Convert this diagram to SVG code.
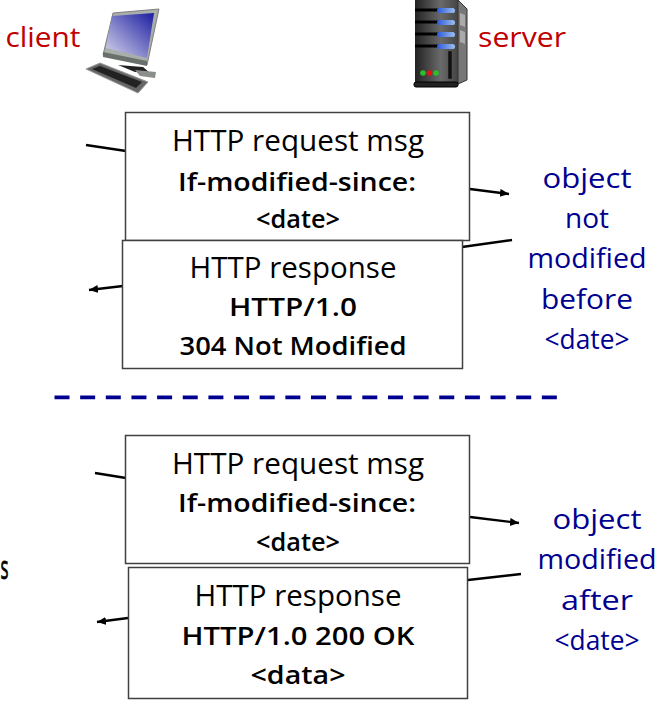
<svg xmlns="http://www.w3.org/2000/svg" width="672" height="706" viewBox="0 0 672 706">
<style>
text{font-family:"Open Sans","DejaVu Sans",sans-serif;text-anchor:middle}
.t{font-size:29px;fill:#000}
.b{font-size:25px;font-weight:600;fill:#000}
.r{font-size:27px;fill:#c00000}
.n{font-size:27px;font-weight:500;fill:#000090}
.box{fill:#fff;stroke:#404040;stroke-width:1.5}
.c{stroke:#000;stroke-width:2.3;fill:none}
.a{marker-end:url(#ah)}
</style>
<defs>
<marker id="ah" markerUnits="userSpaceOnUse" markerWidth="10" markerHeight="10" refX="9" refY="4" orient="auto"><path d="M0 0L9 4L0 8Z" fill="#000"/></marker>
<linearGradient id="scr" x1="1" y1="0" x2="0" y2="1"><stop offset="0" stop-color="#1c1ca0"/><stop offset="1" stop-color="#d8d8ee"/></linearGradient>
<linearGradient id="tower" x1="0" y1="0" x2="1" y2="0"><stop offset="0" stop-color="#222"/><stop offset="0.6" stop-color="#6a6a6a"/><stop offset="1" stop-color="#444"/></linearGradient>
<linearGradient id="led" x1="0" y1="0" x2="1" y2="0"><stop offset="0" stop-color="#2c58d8"/><stop offset="1" stop-color="#9cc0f0"/></linearGradient>
</defs>
<g id="client-label"><text class="r" x="43" y="47" textLength="75" lengthAdjust="spacingAndGlyphs">client</text></g>
<g id="client-icon">
<path d="M113 13L159 9L147 65L103 55Z" fill="#a8aeaa" stroke="#808080" stroke-width="1"/>
<path d="M112 16L154 13L147 58L106 48Z" fill="url(#scr)"/>
<path d="M103 52L147 61L147 66L103 57Z" fill="#6a706c"/>
<path d="M118 65L143 67L150 73L135 72Z" fill="#222"/>
<path d="M135 70L156 72L155 78L140 76Z" fill="#8a8f8b"/>
<path d="M86 69L100 63L148 82L138 93Z" fill="#666" stroke="#999" stroke-width="1"/>
<path d="M92 69L100 66L142 82L136 88Z" fill="#222"/>
</g>
<g id="server-label"><text class="r" x="522" y="47" textLength="88" lengthAdjust="spacingAndGlyphs">server</text></g>
<g id="server-icon">
<path d="M415 0H458V84H415Z" fill="url(#tower)"/>
<path d="M458 0L467 9V80L458 84Z" fill="#777" stroke="#333" stroke-width="1"/>
<path d="M460 13L465 15V27L460 25ZM460 30L465 32V44L460 42Z" fill="#aaa"/>
<path d="M415 10H455M415 22H455M415 34H455M415 46H455" stroke="#000" stroke-width="3"/>
<rect x="437" y="8" width="18" height="5" rx="2" fill="url(#led)"/>
<rect x="437" y="20" width="18" height="5" rx="2" fill="url(#led)"/>
<rect x="437" y="32" width="18" height="5" rx="2" fill="url(#led)"/>
<rect x="437" y="44" width="18" height="5" rx="2" fill="url(#led)"/>
<rect x="448" y="51" width="4" height="28" fill="#111" stroke="#555" stroke-width="0.5"/>
<circle cx="423" cy="73" r="2.8" fill="#2ac02a"/><circle cx="429.500" cy="73" r="2.8" fill="#e81010"/><circle cx="436" cy="73" r="2.8" fill="#2ac02a"/>
<rect x="414" y="82" width="44" height="5" rx="2" fill="#222" stroke="#000" stroke-width="1"/>
</g>
<g id="connectors">
<path class="c" d="M86 145L126 151"/>
<path class="c a" d="M470 189L509 194"/>
<path class="c" d="M462 247L512 240"/>
<path class="c a" d="M123 286L89 290"/>
<path class="c" d="M95 473L126 478"/>
<path class="c a" d="M470 517L519 523"/>
<path class="c" d="M468 580L521 574"/>
<path class="c a" d="M128 618L97 622"/>
<path d="M54.500 397.300H557" stroke="#000090" stroke-width="3.8" stroke-dasharray="15 10.650" fill="none"/>
</g>
<g id="request-1">
<rect class="box" x="125.500" y="112.500" width="344" height="128"/>
<text class="t" x="298" y="151" textLength="252" lengthAdjust="spacingAndGlyphs">HTTP request msg</text>
<text class="b" x="297" y="191" textLength="238" lengthAdjust="spacingAndGlyphs">If-modified-since:</text>
<text class="b" x="298" y="228" textLength="84" lengthAdjust="spacingAndGlyphs">&lt;date&gt;</text>
</g>
<g id="response-1">
<rect class="box" x="122.500" y="240.500" width="340" height="128"/>
<text class="t" x="293" y="278" textLength="207" lengthAdjust="spacingAndGlyphs">HTTP response</text>
<text class="b" x="293" y="316" textLength="128" lengthAdjust="spacingAndGlyphs">HTTP/1.0</text>
<text class="b" x="293" y="355" textLength="227" lengthAdjust="spacingAndGlyphs">304 Not Modified</text>
</g>
<g id="note-1">
<text class="n" x="587" y="188" textLength="89" lengthAdjust="spacingAndGlyphs">object</text>
<text class="n" x="587" y="228" textLength="44" lengthAdjust="spacingAndGlyphs">not</text>
<text class="n" x="587" y="268" textLength="119" lengthAdjust="spacingAndGlyphs">modified</text>
<text class="n" x="587" y="309" textLength="92" lengthAdjust="spacingAndGlyphs">before</text>
<text class="n" x="587" y="349" textLength="85" lengthAdjust="spacingAndGlyphs">&lt;date&gt;</text>
</g>
<g id="request-2">
<rect class="box" x="125.500" y="435.500" width="344" height="128"/>
<text class="t" x="298" y="474" textLength="252" lengthAdjust="spacingAndGlyphs">HTTP request msg</text>
<text class="b" x="297" y="512" textLength="238" lengthAdjust="spacingAndGlyphs">If-modified-since:</text>
<text class="b" x="298" y="551" textLength="84" lengthAdjust="spacingAndGlyphs">&lt;date&gt;</text>
</g>
<g id="response-2">
<rect class="box" x="128.500" y="567.500" width="339" height="131"/>
<text class="t" x="298" y="606" textLength="207" lengthAdjust="spacingAndGlyphs">HTTP response</text>
<text class="b" x="298" y="645" textLength="233" lengthAdjust="spacingAndGlyphs">HTTP/1.0 200 OK</text>
<text class="b" x="298" y="684" textLength="95" lengthAdjust="spacingAndGlyphs">&lt;data&gt;</text>
</g>
<g id="note-2">
<text class="n" x="597" y="529" textLength="89" lengthAdjust="spacingAndGlyphs">object</text>
<text class="n" x="597" y="569" textLength="119" lengthAdjust="spacingAndGlyphs">modified</text>
<text class="n" x="597" y="610" textLength="72" lengthAdjust="spacingAndGlyphs">after</text>
<text class="n" x="597" y="650" textLength="85" lengthAdjust="spacingAndGlyphs">&lt;date&gt;</text>
</g>
<g id="fragment"><text x="0.500" y="579" font-size="33" fill="#000" stroke="#000" stroke-width="0.8" style="text-anchor:start" textLength="8" lengthAdjust="spacingAndGlyphs">s</text></g>
</svg>
